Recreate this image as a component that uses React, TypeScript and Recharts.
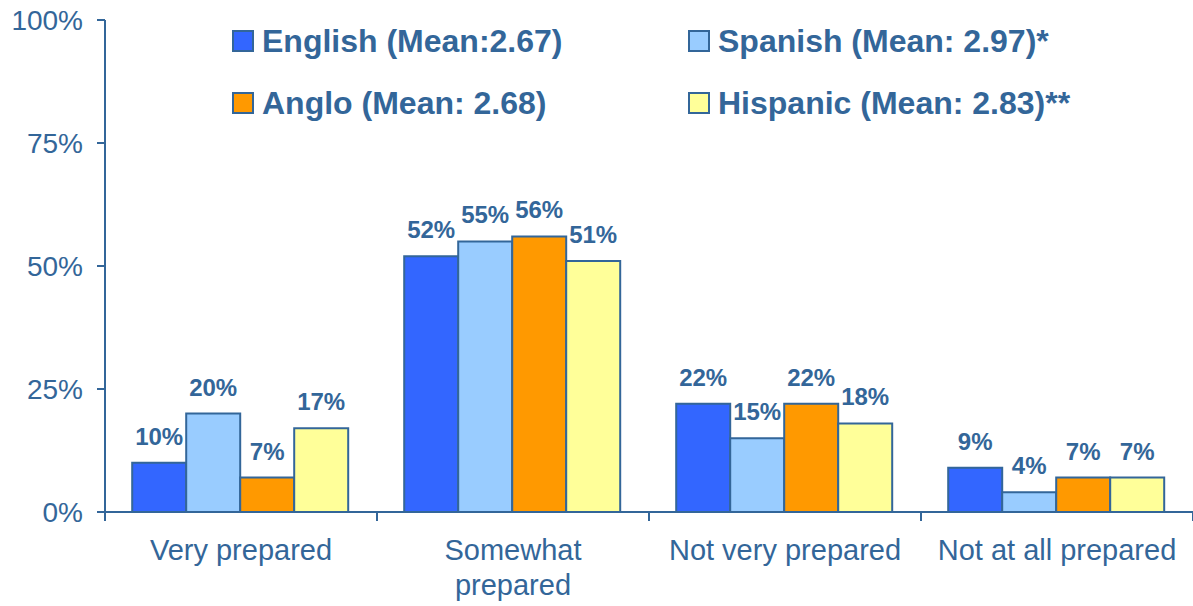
import React from "react";
import { Bar, BarChart, LabelList, XAxis, YAxis } from "recharts";

const categories = ["Very prepared", "Somewhat\nprepared", "Not very prepared", "Not at all prepared"];
const english = [10, 52, 22, 9];
const spanish = [20, 55, 15, 4];
const anglo = [7, 56, 22, 7];
const hispanic = [17, 51, 18, 7];
const yTicks = [0, 25, 50, 75, 100];

const series = [
  { key: "english", label: "English (Mean:2.67)", color: "#3366FF" },
  { key: "spanish", label: "Spanish (Mean: 2.97)*", color: "#99CCFF" },
  { key: "anglo", label: "Anglo (Mean: 2.68)", color: "#FF9900" },
  { key: "hispanic", label: "Hispanic (Mean: 2.83)**", color: "#FFFF99" },
];

const data = categories.map((name, i) => ({
  name,
  english: english[i],
  spanish: spanish[i],
  anglo: anglo[i],
  hispanic: hispanic[i],
}));

const AXIS = "#336699";
const FONT = '"Liberation Sans", Arial, sans-serif';

function XTick(props: any) {
  const { x, y, payload, index } = props;
  const half = payload.offset ?? 136;
  const lines = String(payload.value).split("\n");
  return (
    <g>
      <line x1={x - half} x2={x - half} y1={y} y2={y + 9} stroke={AXIS} strokeWidth={2} />
      {index === categories.length - 1 && (
        <line x1={x + half} x2={x + half} y1={y} y2={y + 9} stroke={AXIS} strokeWidth={2} />
      )}
      <text textAnchor="middle" fill={AXIS} fontSize={29} fontFamily={FONT}>
        {lines.map((l, i) => (
          <tspan key={i} x={x} y={y + 48 + i * 35}>
            {l}
          </tspan>
        ))}
      </text>
    </g>
  );
}

export default function App() {
  return (
    <div style={{ position: "relative", width: 1193, height: 606, fontFamily: FONT }}>
      <style>{`body{margin:0}`}</style>
      <BarChart
        width={1193}
        height={606}
        data={data}
        margin={{ top: 20, right: 0, left: 0, bottom: 0 }}
        barCategoryGap="10%"
        barGap={0}
      >
        <XAxis
          dataKey="name"
          height={94}
          axisLine={{ stroke: AXIS, strokeWidth: 2 }}
          tickLine={false}
          tickSize={0}
          tickMargin={0}
          interval={0}
          tick={<XTick />}
        />
        <YAxis
          width={105}
          domain={[0, 100]}
          ticks={yTicks}
          interval={0}
          tickFormatter={(v) => `${v}%`}
          axisLine={{ stroke: AXIS, strokeWidth: 2 }}
          tickLine={{ stroke: AXIS, strokeWidth: 2 }}
          tickSize={8}
          tickMargin={14}
          tick={{ fill: AXIS, fontSize: 28, fontFamily: FONT }}
        />
        {series.map((s) => (
          <Bar
            key={s.key}
            dataKey={s.key}
            fill={s.color}
            stroke={AXIS}
            strokeWidth={2}
            isAnimationActive={false}
          >
            <LabelList
              dataKey={s.key}
              position="top"
              offset={18}
              formatter={(v: any) => `${v}%`}
              fill={AXIS}
              fontSize={24}
              fontWeight="bold"
              fontFamily={FONT}
            />
          </Bar>
        ))}
      </BarChart>
      <div
        style={{
          position: "absolute",
          left: 232,
          top: 26,
          display: "grid",
          gridTemplateColumns: "456px 456px",
          gridAutoRows: "62px",
        }}
      >
        {series.map((s) => (
          <div key={s.key} style={{ display: "flex", alignItems: "center", height: 30 }}>
            <span
              style={{
                display: "inline-block",
                width: 18,
                height: 18,
                background: s.color,
                border: `2px solid ${AXIS}`,
                marginRight: 8,
                flexShrink: 0,
              }}
            />
            <span style={{ color: AXIS, fontWeight: "bold", fontSize: 32, whiteSpace: "nowrap" }}>{s.label}</span>
          </div>
        ))}
      </div>
    </div>
  );
}
